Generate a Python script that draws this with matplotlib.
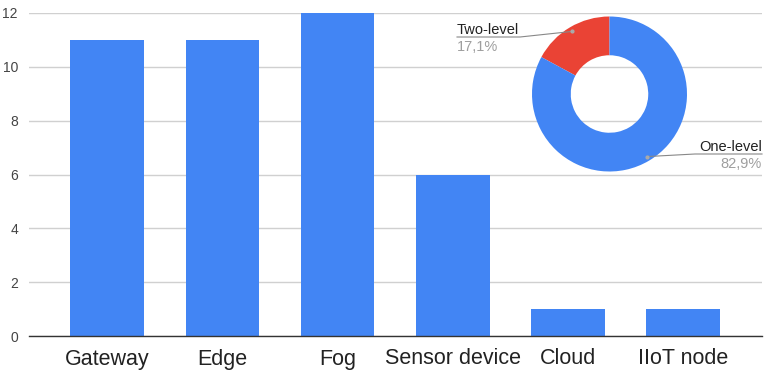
import numpy as np
import matplotlib.pyplot as plt
from matplotlib.lines import Line2D

categories = ["Gateway", "Edge", "Fog", "Sensor device", "Cloud", "IIoT node"]
counts = [11, 11, 12, 6, 1, 1]

levels = ["Two-level", "One-level"]
level_share = [17.1, 82.9]

BLUE = "#4285F4"
RED = "#EA4335"
W, H = 764, 372

plt.rcParams["font.family"] = ["Liberation Sans", "DejaVu Sans"]

fig = plt.figure(figsize=(W / 100, H / 100), dpi=100)


def px(x, y):
    # pixel position (top-left origin) -> figure fraction
    return x / W, 1 - y / H


# bar chart
ax = fig.add_axes([29 / W, 1 - 336 / H, (762 - 29) / W, (336 - 13) / H])
x = np.arange(len(categories))
ax.bar(x, counts, width=0.64, color=BLUE, zorder=2)
ax.set_xlim(-0.68, len(categories) - 1 + 0.685)
ax.set_ylim(0, 12)
ax.set_yticks(range(0, 13, 2))
ax.set_xticks(x)
ax.set_xticklabels(categories, fontsize=15.5, color="#222222")
ax.tick_params(axis="x", length=0, pad=9)
ax.tick_params(axis="y", length=0, pad=8, labelsize=10, labelcolor="#444444")
ax.grid(axis="y", color="#d0d0d0", linewidth=1, zorder=0)
for side in ["top", "right", "left"]:
    ax.spines[side].set_visible(False)
ax.spines["bottom"].set_color("#333333")
ax.spines["bottom"].set_linewidth(1)
ax.spines["bottom"].set_zorder(3)

# donut inset
cx, cy, R = 609.5, 94, 77.5
pie_ax = fig.add_axes([(cx - R) / W, 1 - (cy + R) / H, 2 * R / W, 2 * R / H])
wedges, _ = pie_ax.pie(level_share, colors=[RED, BLUE], startangle=90,
                       counterclock=True, radius=1,
                       wedgeprops=dict(width=0.5, edgecolor="none"))
pie_ax.set_xlim(-1, 1)
pie_ax.set_ylim(-1, 1)
pie_ax.set_aspect("auto")
pie_ax.axis("off")

# leader lines and labels
label_spec = [
    # label, share, anchor side, text x, text baseline y, underline end x
    (levels[0], level_share[0], "left", 457, 34, 520),
    (levels[1], level_share[1], "right", 762, 151, 695),
]
for (name, share, side, tx, ty, ux), w in zip(label_spec, wedges):
    ang = np.deg2rad((w.theta1 + w.theta2) / 2)
    dot = pie_ax.transData.transform((0.94 * np.cos(ang), 0.94 * np.sin(ang)))
    dot_fig = fig.transFigure.inverted().transform(dot)
    line_y = ty + 3
    pts = [px(tx, line_y), px(ux, line_y), tuple(dot_fig)]
    fig.add_artist(Line2D([p[0] for p in pts], [p[1] for p in pts],
                          color="#888888", linewidth=0.8,
                          transform=fig.transFigure))
    fig.add_artist(Line2D([dot_fig[0]], [dot_fig[1]], marker="o", markersize=2,
                          color="#aaaaaa", transform=fig.transFigure))
    fig.text(*px(tx, ty), name, ha=side, va="baseline", fontsize=10.5,
             color="#222222")
    fig.text(*px(tx, ty + 17), f"{share:.1f}%".replace(".", ","), ha=side,
             va="baseline", fontsize=10.5, color="#9e9e9e")

fig.savefig("out.png", dpi=100, facecolor="white")
